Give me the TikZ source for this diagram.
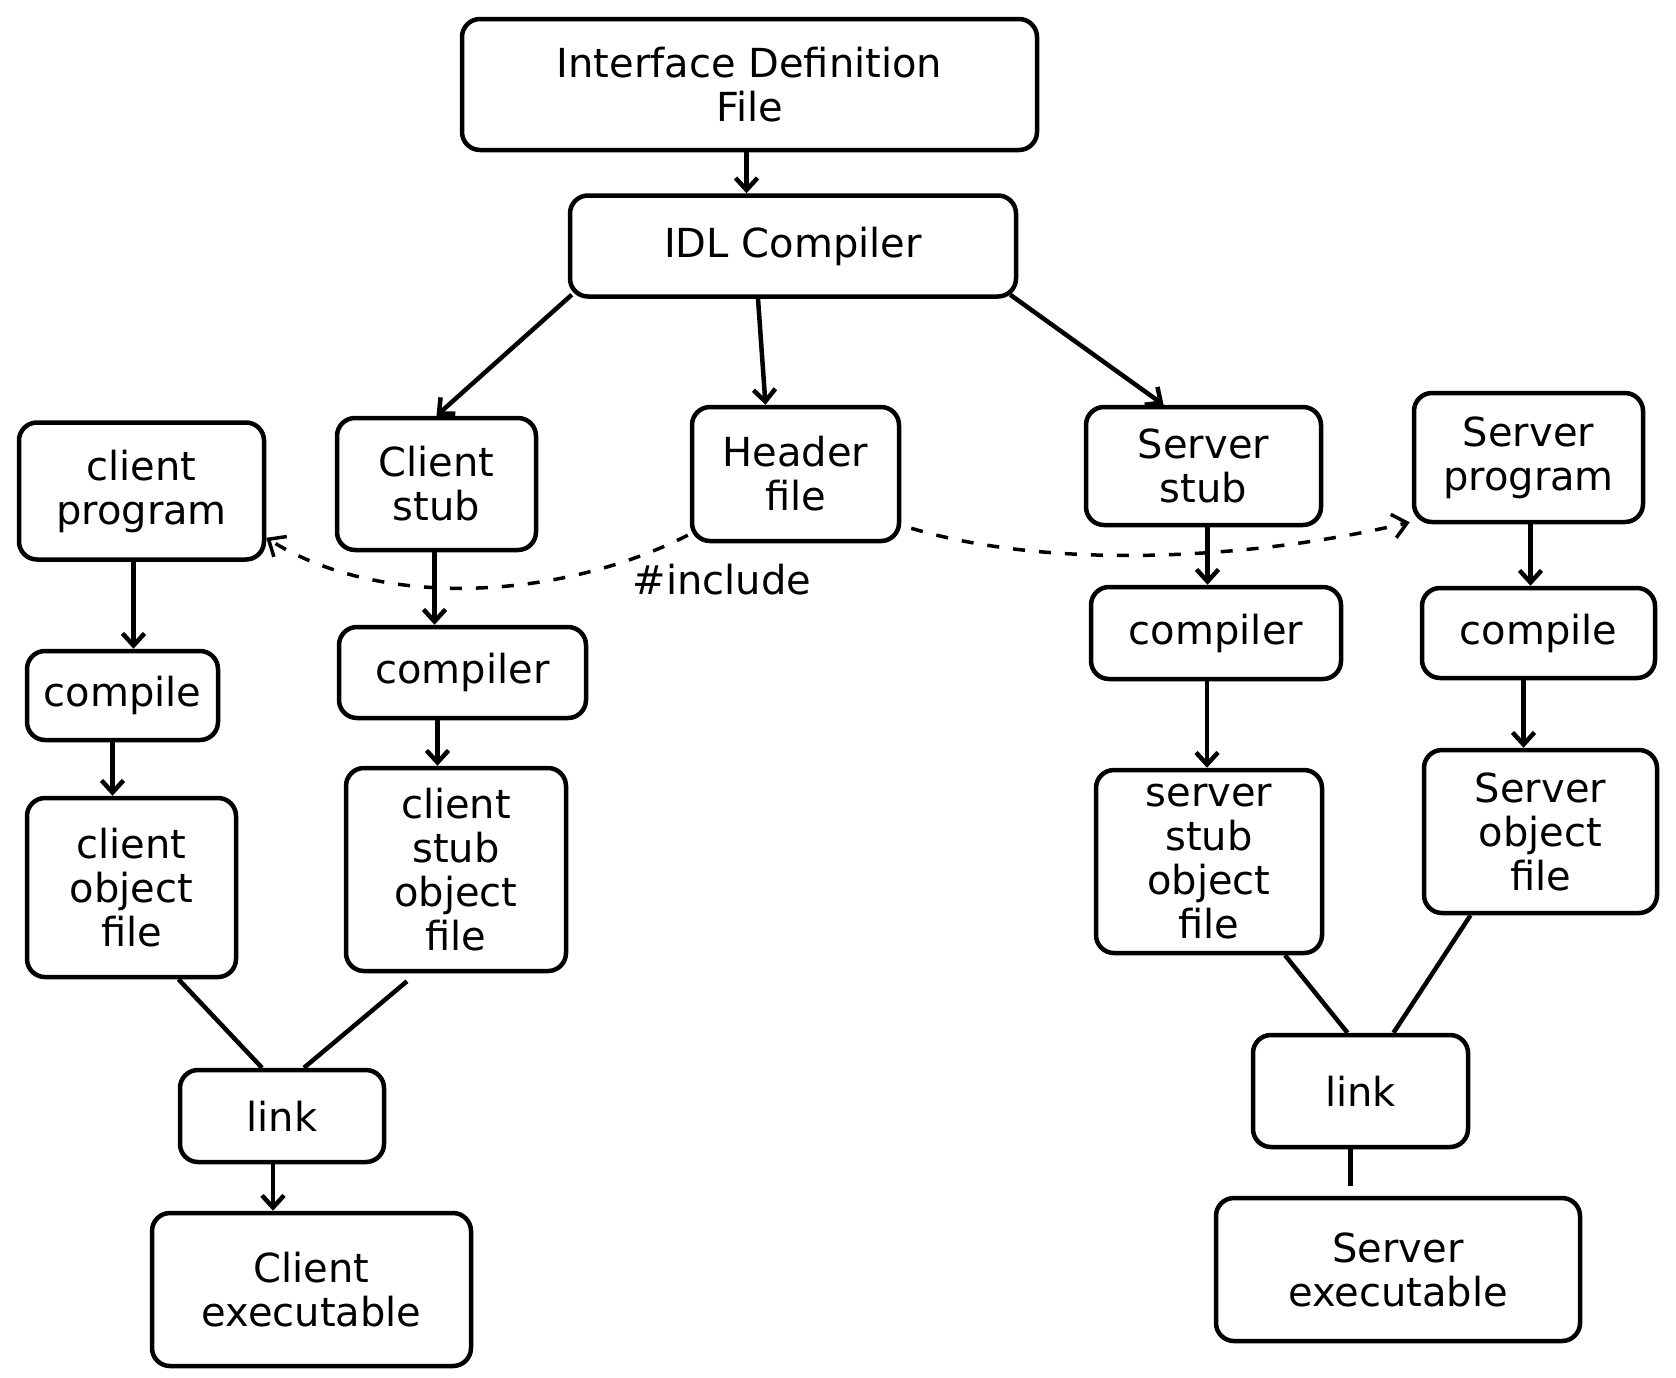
\documentclass[tikz,border=0pt]{standalone}
\usepackage{fontspec}
\setmainfont{DejaVu Sans}
\usetikzlibrary{arrows.meta}
\begin{document}
\begin{tikzpicture}[x=1pt,y=-1pt,
  box/.style={draw, line width=4.5pt, rounded corners=18pt, align=center, inner sep=0pt, font=\fontsize{40}{44}\selectfont},
  arr/.style={line width=4.5pt, -{Straight Barb[length=12pt,width=22pt,line width=4.5pt]}},
  ln/.style={line width=4.5pt},
  dsh/.style={line width=3.5pt, dash pattern=on 12pt off 14pt, -{Straight Barb[length=14pt,width=24pt,line width=3.5pt]}},
  lbl/.style={font=\fontsize{40}{44}\selectfont, inner sep=0pt}]
\useasboundingbox (0,0) rectangle (1676,1377);
% top
\node[box, minimum width=575pt, minimum height=131pt] (idf) at (749.5,84.5) {Interface Definition\\File};
\node[box, minimum width=446pt, minimum height=101pt] (idl) at (793,246) {IDL Compiler};
% second row
\node[box, minimum width=245pt, minimum height=137pt] (cprog) at (141.5,491) {client\\program};
\node[box, minimum width=199pt, minimum height=132pt] (cstub) at (436.5,484) {Client\\stub};
\node[box, minimum width=207pt, minimum height=134pt] (hdr) at (795.5,474) {Header\\file};
\node[box, minimum width=235pt, minimum height=118pt] (sstub) at (1203.5,466) {Server\\stub};
\node[box, minimum width=229pt, minimum height=129pt] (sprog) at (1528.5,457.5) {Server\\program};
% compile row
\node[box, minimum width=191pt, minimum height=89pt] (compL) at (122.5,695.5) {compile};
\node[box, minimum width=247pt, minimum height=91pt] (complrL) at (462.5,672.5) {compiler};
\node[box, minimum width=250pt, minimum height=92pt] (complrR) at (1216,633) {compiler};
\node[box, minimum width=233pt, minimum height=90pt] (compR) at (1538.5,633) {compile};
% object row
\node[box, minimum width=209pt, minimum height=179pt] (cobj) at (131.5,887.5) {client\\object\\file};
\node[box, minimum width=220pt, minimum height=203pt] (csobj) at (456,869.5) {client\\stub\\object\\file};
\node[box, minimum width=226pt, minimum height=183pt] (ssobj) at (1209,861.5) {server\\stub\\object\\file};
\node[box, minimum width=233pt, minimum height=163pt] (sobj) at (1540.5,831.5) {Server\\object\\file};
% link row
\node[box, minimum width=204pt, minimum height=92pt] (linkL) at (282,1116) {link};
\node[box, minimum width=215pt, minimum height=112pt] (linkR) at (1360.5,1091) {link};
% executables
\node[box, minimum width=319pt, minimum height=153pt] (cexe) at (311.5,1289.5) {Client\\executable};
\node[box, minimum width=364pt, minimum height=143pt] (sexe) at (1398,1269.5) {Server\\executable};
% label
\node[lbl] (inc) at (722,580) {\#include};
% connectors
\draw[arr] ([xshift=-3pt]idf.south) -- ([xshift=-3pt]idf.south |- idl.north);
\draw[arr] ([xshift=4pt,yshift=4pt]idl.south west) -- (cstub.north);
\draw[arr] ([xshift=-35pt]idl.south) -- ([xshift=-30pt]hdr.north);
\draw[arr] ([xshift=-8pt,yshift=4pt]idl.south east) -- ([xshift=-40pt]sstub.north);
\draw[arr] ([xshift=-8pt]cprog.south) -- ([xshift=-8pt]cprog.south |- compL.north);
\draw[arr] ([xshift=-10pt]compL.south) -- ([xshift=-10pt]compL.south |- cobj.north);
\draw[arr] ([xshift=-2pt]cstub.south) -- ([xshift=-2pt]cstub.south |- complrL.north);
\draw[arr] ([xshift=-25pt]complrL.south) -- ([xshift=-25pt]complrL.south |- csobj.north);
\draw[ln] ([xshift=47pt]cobj.south) -- ([xshift=-20pt]linkL.north);
\draw[ln] ([xshift=-49pt,yshift=-8pt]csobj.south) -- ([xshift=22pt]linkL.north);
\draw[arr] ([xshift=-9pt]linkL.south) -- ([xshift=-9pt]linkL.south |- cexe.north);
\draw[arr] ([xshift=4pt]sstub.south) -- ([xshift=4pt]sstub.south |- complrR.north);
\draw[arr] ([xshift=-9pt]complrR.south) -- ([xshift=-9pt]complrR.south |- ssobj.north);
\draw[arr] ([xshift=2pt]sprog.south) -- ([xshift=2pt]sprog.south |- compR.north);
\draw[arr] ([xshift=-15pt]compR.south) -- ([xshift=-15pt]compR.south |- sobj.north);
\draw[ln] ([xshift=76pt]ssobj.south) -- ([xshift=-13pt]linkR.north);
\draw[ln] ([xshift=-70pt]sobj.south) -- ([xshift=33pt]linkR.north);
\draw[ln, shorten >=10pt] ([xshift=-10pt]linkR.south) -- ([xshift=-10pt]linkR.south |- sexe.north);
% dashed #include curves
\draw[dsh] ([xshift=-2pt,yshift=8pt]hdr.south west) .. controls (560,600) and (380,610) .. ([yshift=24pt]cprog.south east);
\draw[dsh] ([xshift=10pt,yshift=15pt]hdr.south east) .. controls (1050,570) and (1250,560) .. ([xshift=-2pt,yshift=2pt]sprog.south west);
\end{tikzpicture}
\end{document}
